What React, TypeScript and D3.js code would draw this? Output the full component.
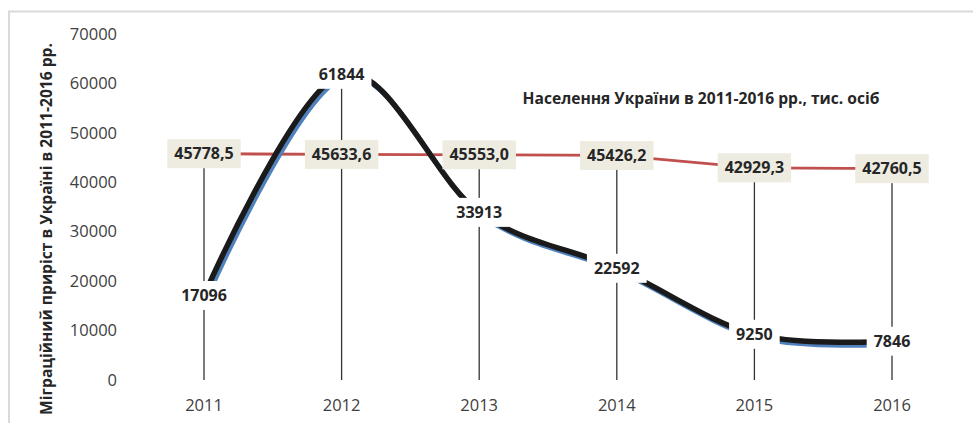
import React, { useEffect, useRef } from "react";
import * as d3 from "d3";

const years = ["2011", "2012", "2013", "2014", "2015", "2016"];
const migration = [17096, 61844, 33913, 22592, 9250, 7846];
const population = [45778.5, 45633.6, 45553.0, 45426.2, 42929.3, 42760.5];
const yTicks = [0, 10000, 20000, 30000, 40000, 50000, 60000, 70000];

const chartTitle = "Населення України в 2011-2016 рр., тис. осіб";
const yTitle = "Міграційний приріст в Україні в 2011-2016 рр.";

const fmtPop = (v: number) => v.toFixed(1).replace(".", ",");

const App = () => {
  const ref = useRef<SVGSVGElement>(null);

  useEffect(() => {
    const width = 973;
    const height = 423;
    const font = "'Open Sans', sans-serif";

    const svg = d3.select(ref.current);
    svg.selectAll("*").remove();
    svg.attr("width", width).attr("height", height);

    svg.append("rect").attr("width", width).attr("height", height).attr("fill", "#fff");

    // outer frame, only top and left edges are visible in the crop
    svg.append("path")
      .attr("d", `M9,${height} V11.5 H${width}`)
      .attr("fill", "none")
      .attr("stroke", "#d9d9d9")
      .attr("stroke-width", 2);

    const x = d3.scalePoint<string>().domain(years).range([204, 892]);
    const y = d3.scaleLinear().domain([0, 70000]).range([380, 34]);

    // y tick labels
    svg.append("g")
      .selectAll("text")
      .data(yTicks)
      .join("text")
      .attr("x", 117)
      .attr("y", d => y(d))
      .attr("dy", "0.35em")
      .attr("text-anchor", "end")
      .style("font", `16.5px ${font}`)
      .attr("fill", "#404040")
      .text(d => d);

    // x labels
    svg.append("g")
      .selectAll("text")
      .data(years)
      .join("text")
      .attr("x", d => x(d)!)
      .attr("y", 405)
      .attr("dy", "0.35em")
      .attr("text-anchor", "middle")
      .style("font", `16.5px ${font}`)
      .attr("fill", "#404040")
      .text(d => d);

    // drop lines
    svg.append("g")
      .selectAll("line")
      .data(years)
      .join("line")
      .attr("x1", d => x(d)!)
      .attr("x2", d => x(d)!)
      .attr("y1", (d, i) => y(Math.max(population[i], migration[i])))
      .attr("y2", y(0))
      .attr("stroke", "#333")
      .attr("stroke-width", 1.3);

    // population line
    const popLine = d3.line<number>()
      .x((d, i) => x(years[i])!)
      .y(d => y(d));
    svg.append("path")
      .attr("d", popLine(population))
      .attr("fill", "none")
      .attr("stroke", "#c0504d")
      .attr("stroke-width", 2.8);

    // migration line, smoothed, with blue shadow
    const migLine = d3.line<number>()
      .x((d, i) => x(years[i])!)
      .y(d => y(d))
      .curve(d3.curveCardinal.tension(0));
    svg.append("path")
      .attr("d", migLine(migration))
      .attr("transform", "translate(2.4,3)")
      .attr("fill", "none")
      .attr("stroke", "#4f81bd")
      .attr("stroke-width", 5);
    svg.append("path")
      .attr("d", migLine(migration))
      .attr("fill", "none")
      .attr("stroke", "#1a1a1a")
      .attr("stroke-width", 5.5);

    const addLabels = (values: number[], fmt: (v: number) => string, fill: string) => {
      const g = svg.append("g");
      values.forEach((v, i) => {
        const cx = x(years[i])!;
        const cy = y(v);
        const lab = g.append("g");
        const box = lab.append("rect").attr("fill", fill);
        const t = lab.append("text")
          .attr("x", cx)
          .attr("y", cy)
          .attr("dy", "0.35em")
          .attr("text-anchor", "middle")
          .style("font", `bold 16px ${font}`)
          .attr("fill", "#262626")
          .text(fmt(v));
        const w = (t.node() as SVGTextElement).getComputedTextLength();
        box.attr("x", cx - w / 2 - 7)
          .attr("y", cy - 14.5)
          .attr("width", w + 14)
          .attr("height", 29);
      });
    };

    addLabels(migration, v => String(v), "#fff");
    addLabels(population, fmtPop, "#eeece1");

    // chart title
    svg.append("text")
      .attr("x", 701)
      .attr("y", 99)
      .attr("dy", "0.35em")
      .attr("text-anchor", "middle")
      .style("font", `bold 15.6px ${font}`)
      .attr("fill", "#262626")
      .text(chartTitle);

    // y axis title
    svg.append("text")
      .attr("transform", `translate(47,229) rotate(-90)`)
      .attr("dy", "0.35em")
      .attr("text-anchor", "middle")
      .style("font", `bold 15.6px ${font}`)
      .attr("fill", "#262626")
      .text(yTitle);
  }, []);

  return <svg ref={ref} style={{ position: "absolute", left: 0, top: 0 }} />;
};

export default App;
